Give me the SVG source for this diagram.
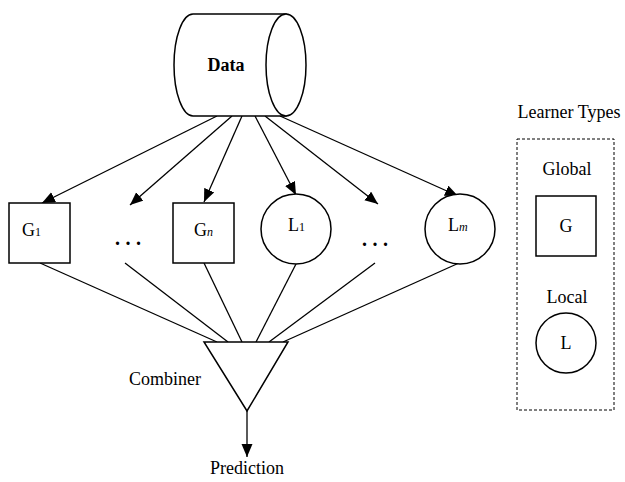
<svg xmlns="http://www.w3.org/2000/svg" width="625" height="482" viewBox="0 0 625 482">
<style>
  .shape { fill: #fff; stroke: #000; stroke-width: 1.5; }
  .edge { fill: none; stroke: #000; stroke-width: 1.3; }
  .lbl { font-family: "Liberation Serif", "Times New Roman", serif; font-size: 18px; fill: #000; }
  .sub { font-size: 12px; }
  .dots { font-family: "Liberation Serif", serif; font-size: 20px; font-weight: bold; letter-spacing: 5.5px; }
</style>
<defs>
  <marker id="arr" markerUnits="userSpaceOnUse" markerWidth="14" markerHeight="12" refX="13" refY="5.5" orient="auto">
    <path d="M0,0 L13,5.5 L0,11 z" fill="#000"/>
  </marker>
</defs>
<g id="connectors">
  <line class="edge" x1="217" y1="116" x2="42" y2="203" marker-end="url(#arr)"/>
  <line class="edge" x1="232" y1="116" x2="130" y2="205" marker-end="url(#arr)"/>
  <line class="edge" x1="242" y1="116" x2="204" y2="202" marker-end="url(#arr)"/>
  <line class="edge" x1="255" y1="116" x2="296" y2="195" marker-end="url(#arr)"/>
  <line class="edge" x1="265" y1="116" x2="378" y2="204" marker-end="url(#arr)"/>
  <line class="edge" x1="280" y1="116" x2="458" y2="196" marker-end="url(#arr)"/>
  <line class="edge" x1="40" y1="263" x2="217" y2="342"/>
  <line class="edge" x1="125" y1="263" x2="228" y2="342"/>
  <line class="edge" x1="204" y1="263" x2="242" y2="342"/>
  <line class="edge" x1="296" y1="264" x2="256" y2="342"/>
  <line class="edge" x1="375" y1="263" x2="269" y2="342"/>
  <line class="edge" x1="459" y1="263" x2="283" y2="342"/>
  <line class="edge" x1="247" y1="411" x2="247" y2="457" marker-end="url(#arr)"/>
</g>
<g id="data">
  <path class="shape" d="M193,14 L286,14 L286,116 L193,116 A19,51 0 0 1 193,14 Z"/>
  <ellipse class="shape" cx="286" cy="65" rx="20" ry="51"/>
  <text class="lbl" x="226" y="71" text-anchor="middle" font-weight="bold">Data</text>
</g>
<g id="g1">
  <rect class="shape" x="9" y="203" width="61" height="60"/>
  <text class="lbl" x="22" y="236">G<tspan class="sub">1</tspan></text>
</g>
<g id="dots1">
  <text class="dots" x="115" y="245">...</text>
</g>
<g id="gn">
  <rect class="shape" x="173" y="203" width="61" height="60"/>
  <text class="lbl" x="194" y="236">G<tspan class="sub" font-style="italic">n</tspan></text>
</g>
<g id="l1">
  <circle class="shape" cx="296" cy="229" r="35"/>
  <text class="lbl" x="288" y="231">L<tspan class="sub">1</tspan></text>
</g>
<g id="dots2">
  <text class="dots" x="362" y="246">...</text>
</g>
<g id="lm">
  <circle class="shape" cx="460" cy="229" r="35"/>
  <text class="lbl" x="448" y="231">L<tspan class="sub" font-style="italic">m</tspan></text>
</g>
<g id="combiner">
  <polygon class="shape" points="204,342 288,342 247,411"/>
  <text class="lbl" x="129" y="385">Combiner</text>
</g>
<g id="prediction">
  <text class="lbl" x="247" y="474" text-anchor="middle">Prediction</text>
</g>
<g id="legend">
  <text class="lbl" x="569" y="118" text-anchor="middle">Learner Types</text>
  <rect x="517" y="139" width="97" height="271" fill="none" stroke="#000" stroke-width="1" stroke-dasharray="3,2"/>
  <text class="lbl" x="567" y="175" text-anchor="middle">Global</text>
  <rect class="shape" x="536" y="196" width="60" height="60"/>
  <text class="lbl" x="566" y="232" text-anchor="middle">G</text>
  <text class="lbl" x="567" y="303" text-anchor="middle">Local</text>
  <circle class="shape" cx="566" cy="343" r="30"/>
  <text class="lbl" x="566" y="349" text-anchor="middle">L</text>
</g>
</svg>
